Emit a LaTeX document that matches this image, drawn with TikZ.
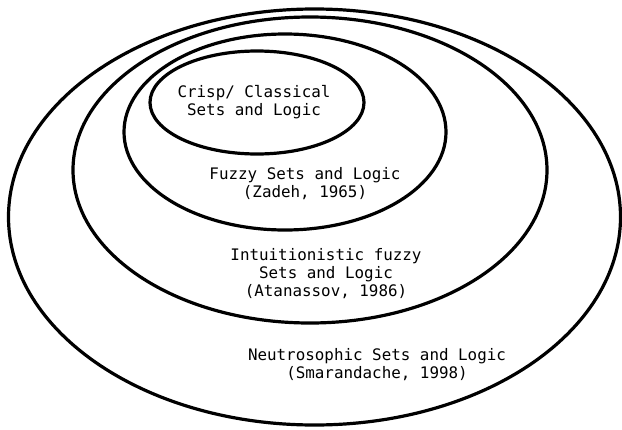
\documentclass[tikz,border=0pt]{standalone}
\usepackage{fontspec}
\setmonofont{DejaVu Sans Mono}
\tikzset{every picture/.style={line width=0.75pt}}
\tikzset{setlabel/.style={inner sep=0.75pt, align=center, font=\ttfamily\fontsize{11.9}{13.5}\selectfont}}

\begin{document}
\begin{tikzpicture}[x=0.75pt,y=0.75pt,yscale=-1,xscale=1]
%set diagram left start at 0, and has height of 429
\path [use as bounding box] (0,0) rectangle (622,429);

%Shape: Ellipse [id:neutrosophic]
\draw [line width=2.4] (314.5,217) ellipse (306 and 208) ;
%Shape: Ellipse [id:intuitionistic]
\draw [line width=2.4] (310,170) ellipse (237 and 153) ;
%Shape: Ellipse [id:fuzzy]
\draw [line width=2.4] (285,132) ellipse (161 and 98) ;
%Shape: Ellipse [id:crisp]
\draw [line width=2.4] (257,102.5) ellipse (107 and 51.5) ;

% Text Node
\draw (254,102.5) node [setlabel] (crisp) {Crisp/ Classical\\Sets and Logic};
% Text Node
\draw (305,184) node [setlabel] (fuzzy) {Fuzzy Sets and Logic\\(Zadeh, 1965)};
% Text Node
\draw (326,274) node [setlabel] (intuit) {Intuitionistic fuzzy\\Sets and Logic\\(Atanassov, 1986)};
% Text Node
\draw (377,364.5) node [setlabel] (neutro) {Neutrosophic Sets and Logic\\(Smarandache, 1998)};

\end{tikzpicture}
\end{document}
